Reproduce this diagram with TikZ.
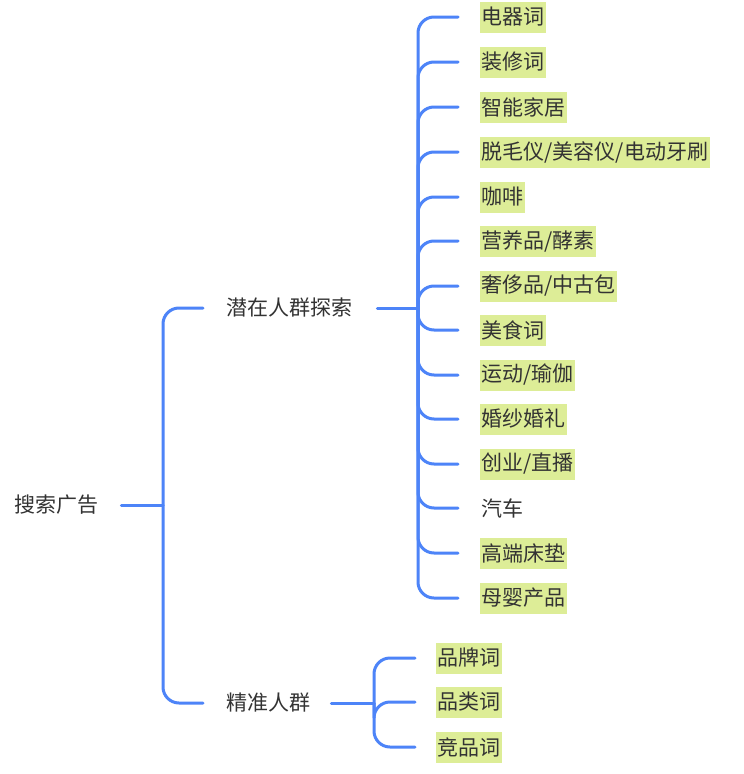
\documentclass[tikz,border=0pt]{standalone}
\usepackage{fontspec}
\setmainfont{Noto Sans CJK SC}
\definecolor{linkblue}{HTML}{4D84F8}
\definecolor{hilite}{HTML}{DDED97}
\definecolor{txt}{HTML}{333333}
\begin{document}
\begin{tikzpicture}[x=1pt,y=-1pt,
  base/.style={font=\fontsize{21}{24}\selectfont, text=txt, anchor=west, inner ysep=0pt, minimum height=31pt},
  plain/.style={base, inner xsep=0pt},
  leaf/.style={base, inner xsep=1.5pt},
  hl/.style={leaf, fill=hilite},
  conn/.style={draw=linkblue, line width=3pt, line cap=round},
  curvedconn/.style={conn, rounded corners=16pt}]
\fill[white] (0,0) rectangle (744,774);
\useasboundingbox (0,0) rectangle (744,774);

% level 0 and 1
\node[plain] (root) at (14,505) {搜索广告};
\node[plain] (A) at (226,308) {潜在人群探索};
\node[plain] (B) at (226,703) {精准人群};
\coordinate (rj) at (163,505);
\coordinate (aj) at (418,308);
\coordinate (bj) at (374,703);

% level 2 under A
\node[hl] (a1) at (480,17) {电器词};
\node[hl] (a2) at (480,62) {装修词};
\node[hl] (a3) at (480,107) {智能家居};
\node[hl] (a4) at (480,152) {脱毛仪/美容仪/电动牙刷};
\node[hl] (a5) at (480,197) {咖啡};
\node[hl] (a6) at (480,241) {营养品/酵素};
\node[hl] (a7) at (480,286) {奢侈品/中古包};
\node[hl] (a8) at (480,330) {美食词};
\node[hl] (a9) at (480,375) {运动/瑜伽};
\node[hl] (a10) at (480,419) {婚纱婚礼};
\node[hl] (a11) at (480,464) {创业/直播};
\node[leaf] (a12) at (480,508) {汽车};
\node[hl] (a13) at (480,553) {高端床垫};
\node[hl] (a14) at (480,598) {母婴产品};

% level 2 under B
\node[hl] (b1) at (436,658) {品牌词};
\node[hl] (b2) at (436,702) {品类词};
\node[hl] (b3) at (436,747) {竞品词};

% connectors
\draw[conn, shorten <=23pt] (root.east) -- (rj);
\draw[curvedconn, shorten >=23pt] (rj) |- (A.west);
\draw[curvedconn, shorten >=23pt] (rj) |- (B.west);

\draw[conn, shorten <=25pt] (A.east) -- (aj);
\foreach \i in {1,...,14}{
  \draw[curvedconn, shorten >=22pt] (aj) |- (a\i.west);
}

\draw[conn, shorten <=21pt] (B.east) -- (bj);
\foreach \i in {1,2,3}{
  \draw[curvedconn, shorten >=21pt] (bj) |- (b\i.west);
}
\end{tikzpicture}
\end{document}
